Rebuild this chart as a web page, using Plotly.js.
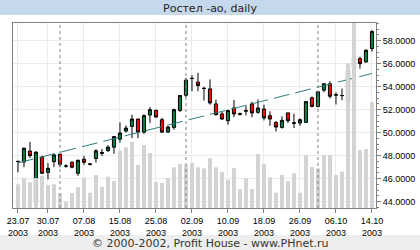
<!DOCTYPE html>
<html>
<head>
<meta charset="utf-8">
<script src="https://cdn.plot.ly/plotly-3.0.1.min.js"></script>
<style>
html,body{margin:0;padding:0;background:#fff;}
#chart{width:420px;height:250px;}
</style>
</head>
<body>
<div id="chart"></div>
<script>
var dates = ["23.07.2003","24.07.2003","25.07.2003","28.07.2003","29.07.2003","30.07.2003","31.07.2003","01.08.2003","04.08.2003","05.08.2003",
"06.08.2003","07.08.2003","08.08.2003","11.08.2003","12.08.2003","13.08.2003","14.08.2003","15.08.2003","18.08.2003","19.08.2003",
"20.08.2003","21.08.2003","22.08.2003","25.08.2003","26.08.2003","27.08.2003","28.08.2003","29.08.2003","01.09.2003","02.09.2003",
"03.09.2003","04.09.2003","05.09.2003","08.09.2003","09.09.2003","10.09.2003","11.09.2003","12.09.2003","15.09.2003","16.09.2003",
"17.09.2003","18.09.2003","19.09.2003","22.09.2003","23.09.2003","24.09.2003","25.09.2003","26.09.2003","29.09.2003","30.09.2003",
"01.10.2003","02.10.2003","03.10.2003","06.10.2003","07.10.2003","08.10.2003","09.10.2003","10.10.2003","13.10.2003","14.10.2003"];

var openV  = [47.5,47.45,48.4,44.0,47.87,46.55,47.48,48.13,47.1,47.43,
46.47,47.69,47.25,47.75,48.2,48.44,48.74,49.44,50.14,50.55,
51.19,50.05,51.54,51.94,51.13,50.05,50.46,51.94,53.26,54.72,
54.4,53.85,53.81,52.5,51.63,51.04,52.15,51.65,51.92,52.5,
51.77,52.06,51.48,50.9,50.46,51.72,50.87,50.84,50.9,53.03,
52.29,53.7,54.25,53.32,53.23,52.68,55.57,56.44,56.15,57.32];
var highV  = [47.55,48.7,49.2,48.4,48.0,47.35,48.15,48.15,47.25,47.5,
47.65,47.98,47.35,48.57,48.57,48.92,49.7,50.9,50.63,51.57,
51.2,51.6,52.24,52.0,51.3,50.6,52.1,53.25,54.77,55.0,
55.2,54.0,54.63,52.88,51.8,52.0,52.85,51.75,52.3,52.7,
52.88,52.44,51.86,51.0,51.42,51.75,51.65,51.25,52.75,53.15,
53.65,54.3,54.48,53.5,53.84,55.5,57.7,56.61,57.25,58.92];
var lowV   = [46.55,47.0,47.8,44.0,46.4,45.95,47.0,47.0,46.95,46.9,
46.25,47.2,47.15,47.4,47.98,48.33,48.16,49.14,50.02,49.53,
49.53,49.9,50.84,51.28,49.97,49.97,50.26,51.8,53.1,53.6,
53.6,52.8,52.44,51.5,51.1,50.69,51.35,51.5,51.5,51.33,
51.65,51.07,50.6,50.1,50.35,50.84,50.4,50.6,50.9,52.2,
52.2,53.52,52.97,52.45,52.82,51.63,55.27,55.57,56.1,57.05];
var closeV = [47.5,48.65,48.0,48.3,46.47,46.9,48.07,47.25,47.1,47.0,
47.6,47.43,47.28,48.42,48.27,48.74,49.67,49.97,50.4,51.19,
50.05,51.48,52.0,51.37,50.05,50.49,52.0,53.23,54.57,54.72,
54.1,53.85,52.59,51.57,51.19,51.92,51.63,51.6,51.88,51.72,
52.15,51.28,51.19,50.49,51.07,51.04,50.82,51.13,52.7,52.29,
53.55,54.25,53.17,53.27,53.23,55.42,56.52,56.0,57.17,58.8];
var volumeV = [237,297,257,300,323,230,237,147,63,150,
210,303,153,330,213,313,270,573,607,663,
430,630,550,260,250,297,407,440,430,450,
407,397,497,407,360,280,400,190,297,190,
540,438,307,153,330,270,347,153,530,410,
397,530,530,330,365,1447,2000,580,590,1057];

var trendDates = ["23.07.2003","14.10.2003"];
var trendValues = [47.37,55.15];

var tickDates = ["23.07.2003","30.07.2003","07.08.2003","15.08.2003","25.08.2003","02.09.2003","10.09.2003","18.09.2003","26.09.2003","06.10.2003","14.10.2003"];
var tickLabels = ["23.07<br>2003","30.07<br>2003","07.08<br>2003","15.08<br>2003","25.08<br>2003","02.09<br>2003","10.09<br>2003","18.09<br>2003","26.09<br>2003","06.10<br>2003","14.10<br>2003"];
var monthStarts = ["01.08.2003","01.09.2003","01.10.2003"];
var priceTicks = [44,46,48,50,52,54,56,58];

var titleText = "Ростел -ао, daily";
var footerText = "© 2000-2002, Profit House - www.PHnet.ru";

var traces = [
  {type:'bar', x:dates, y:volumeV, yaxis:'y2', marker:{color:'#d3d3d3', line:{width:0}}, width:0.66, hoverinfo:'none'},
  {type:'scatter', mode:'lines', x:trendDates, y:trendValues, line:{color:'#2e7d7d', width:1, dash:'16px,6px'}, hoverinfo:'none'},
  {type:'candlestick', x:dates, open:openV, high:highV, low:lowV, close:closeV,
   increasing:{fillcolor:'#008040', line:{color:'#000000', width:1}},
   decreasing:{fillcolor:'#ff0000', line:{color:'#000000', width:1}},
   whiskerwidth:0, hoverinfo:'none'}
];

var shapes = monthStarts.map(function(d){
  var i = dates.indexOf(d);
  return {type:'line', xref:'x', yref:'paper', x0:i, x1:i, y0:0, y1:1, layer:'above',
          line:{color:'#808080', width:1, dash:'3px,3px'}};
});
shapes.push({type:'rect', xref:'paper', yref:'paper', x0:-0.04, x1:1.13, y0:1.043, y1:1.13, fillcolor:'#c6d9ec', line:{width:0}, layer:'below'});
shapes.push({type:'rect', xref:'paper', yref:'paper', x0:-0.04, x1:1.13, y0:-0.235, y1:-0.146, fillcolor:'#eeeeee', line:{width:0}, layer:'below'});

var layout = {
  width:420, height:250, autosize:false,
  margin:{l:13, r:44, t:23, b:42, pad:0},
  paper_bgcolor:'#ffffff', plot_bgcolor:'#ffffff',
  showlegend:false,
  bargap:0.34,
  boxgap:0.25,
  title:{text:titleText, font:{family:'DejaVu Sans', size:11, color:'#222222'}, xref:'container', x:0.5, xanchor:'center', yref:'container', y:0.966, yanchor:'middle'},
  xaxis:{type:'category', range:[-0.83, 59.67], rangeslider:{visible:false},
    tickmode:'array', tickvals:tickDates, ticktext:tickLabels,
    ticks:'outside', ticklen:4, tickcolor:'#808080', tickwidth:1,
    showgrid:true, gridcolor:'#ebebeb', gridwidth:1,
    showline:true, linecolor:'#808080', linewidth:1, mirror:true,
    tickfont:{family:'Liberation Sans', size:9, color:'#000000'}, fixedrange:true, zeroline:false},
  yaxis:{side:'right', range:[43.45, 59.54], tickmode:'array', tickvals:priceTicks, tickformat:'.4f',
    ticks:'outside', ticklen:4, tickcolor:'#808080',
    minor:{ticks:'outside', ticklen:2, dtick:0.5, tick0:44, tickcolor:'#808080', showgrid:false},
    showgrid:true, gridcolor:'#ebebeb', gridwidth:1,
    showline:true, linecolor:'#808080', linewidth:1, mirror:true,
    tickfont:{family:'Liberation Sans', size:9, color:'#000000'}, fixedrange:true, zeroline:false},
  yaxis2:{overlaying:'y', range:[0,1850], visible:false, fixedrange:true},
  shapes:shapes,
  annotations:[{text:footerText, xref:'paper', yref:'paper', x:0.5427, y:-0.19, xanchor:'center', yanchor:'middle', showarrow:false,
    font:{family:'DejaVu Sans', size:11, color:'#333333'}}]
};

Plotly.newPlot('chart', traces, layout, {displayModeBar:false, staticPlot:true});
</script>
</body>
</html>
